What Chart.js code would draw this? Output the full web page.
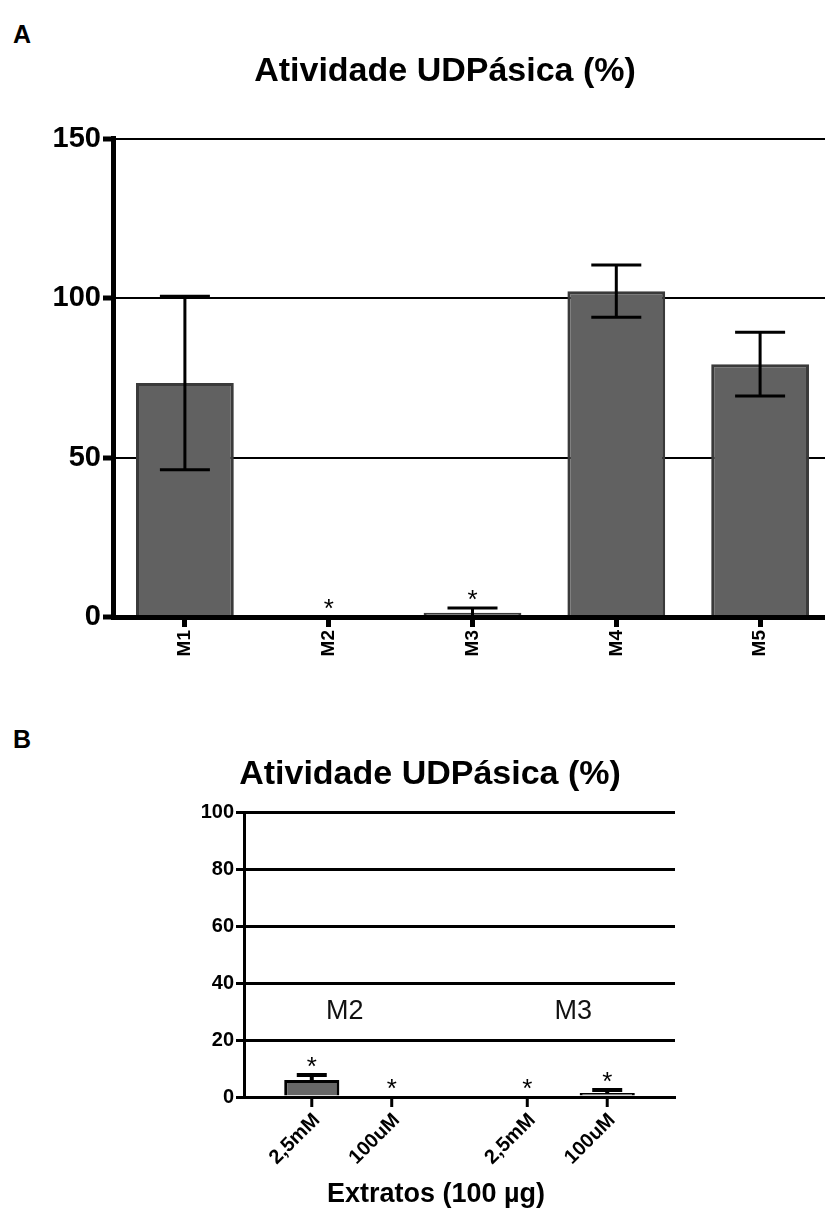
<!DOCTYPE html>
<html>
<head>
<meta charset="utf-8">
<script src="https://cdn.jsdelivr.net/npm/chart.js@4.4.0/dist/chart.umd.min.js"></script>
<style>
  body { margin: 0; background: #fff; width: 825px; height: 1214px; overflow: hidden; position: relative;
         font-family: "Liberation Sans", Arial, sans-serif; }
  .tag { position: absolute; left: 13px; font-weight: bold; font-size: 25px; color: #000; }
  #wrapA { position: absolute; left: 0; top: 0; width: 890px; height: 690px; }
  #wrapB { position: absolute; left: 0; top: 690px; width: 860px; height: 524px; }
</style>
</head>
<body>
<div class="tag" style="top:20px">A</div>
<div class="tag" style="top:725px">B</div>
<div id="wrapA"><canvas id="chartA"></canvas></div>
<div id="wrapB"><canvas id="chartB"></canvas></div>

<script>
// panel A data
const labelsA = ['M1', 'M2', 'M3', 'M4', 'M5'];
const valuesA = [73.4, 0, 1.3, 102.2, 79.3];
const errorsA = [27.2, 0, 1.5, 8.2, 10.0];
const starsA = [false, true, true, false, false];
const ticksA = [0, 50, 100, 150];

// panel B data (grouped by extract, one series per concentration)
const groupsB = ['M2', 'M3'];
const concLabels = ['2,5mM', '100uM'];
const values25mM = [6.0, 0];
const values100uM = [0, 1.4];
const errors25mM = [1.7, 0];
const errors100uM = [0, 1.1];
const stars25mM = [true, true];
const stars100uM = [true, true];
const ticksB = [0, 20, 40, 60, 80, 100];

const titleText = 'Atividade UDPásica (%)';
const xTitleB = 'Extratos (100 µg)';

Chart.defaults.font.family = '"Liberation Sans", Arial, sans-serif';
Chart.defaults.color = '#000';
Chart.defaults.animation = false;

// empty right-hand axis, only used to reserve room so the title stays centred on the canvas
function spacerAxis(width) {
    return {
        position: 'right',
        grid: { display: false },
        border: { display: false },
        ticks: { display: false },
        afterFit: s => { s.width = width; }
    };
}

// error bars + significance stars
const errorBars = {
    id: 'errorBars',
    afterDatasetsDraw(chart, args, opts) {
        const ctx = chart.ctx;
        const ys = chart.scales.y;
        ctx.save();
        ctx.strokeStyle = '#000';
        ctx.fillStyle = '#000';
        ctx.lineWidth = opts.lineWidth;
        ctx.font = opts.starFont;
        chart.data.datasets.forEach((ds, di) => {
            const meta = chart.getDatasetMeta(di);
            const errs = opts.errors[di] || [];
            const stars = opts.stars[di] || [];
            meta.data.forEach((bar, i) => {
                const v = ds.data[i];
                const e = errs[i] || 0;
                let top = ys.getPixelForValue(v);
                if (e > 0) {
                    const yt = ys.getPixelForValue(v + e);
                    const yb = opts.upperOnly ? top : ys.getPixelForValue(Math.max(v - e, 0));
                    ctx.beginPath();
                    ctx.moveTo(bar.x, yt);
                    ctx.lineTo(bar.x, yb);
                    ctx.moveTo(bar.x - opts.cap, yt);
                    ctx.lineTo(bar.x + opts.cap, yt);
                    if (!opts.upperOnly && v - e > 0) {
                        ctx.moveTo(bar.x - opts.cap, yb);
                        ctx.lineTo(bar.x + opts.cap, yb);
                    }
                    ctx.stroke();
                    top = Math.min(top, yt);
                }
                if (stars[i]) {
                    const m = ctx.measureText('*');
                    const cy = top - opts.starGap;
                    ctx.textAlign = 'center';
                    ctx.textBaseline = 'alphabetic';
                    ctx.fillText('*', bar.x, cy + (m.actualBoundingBoxAscent - m.actualBoundingBoxDescent) / 2);
                }
            });
        });
        ctx.restore();
    }
};

// panel B: ticks/labels under each bar, group names, x title
const panelBExtras = {
    id: 'panelBExtras',
    afterDraw(chart) {
        const ctx = chart.ctx;
        const ys = chart.scales.y;
        const xs = chart.scales.x;
        const y0 = ys.getPixelForValue(0);
        ctx.save();
        ctx.strokeStyle = '#000';
        ctx.fillStyle = '#000';
        ctx.lineWidth = 3;
        chart.data.datasets.forEach((ds, di) => {
            chart.getDatasetMeta(di).data.forEach(bar => {
                ctx.beginPath();
                ctx.moveTo(bar.x, y0);
                ctx.lineTo(bar.x, y0 + 10);
                ctx.stroke();
                ctx.save();
                ctx.translate(bar.x + 5, y0 + 20);
                ctx.rotate(-Math.PI / 4);
                ctx.font = 'bold 20px "Liberation Sans", Arial, sans-serif';
                ctx.textAlign = 'right';
                ctx.textBaseline = 'middle';
                ctx.fillText(ds.label, 0, 0);
                ctx.restore();
            });
        });
        // group names inside the plot
        ctx.font = '27px "Liberation Sans", Arial, sans-serif';
        ctx.textAlign = 'center';
        ctx.textBaseline = 'middle';
        ctx.fillStyle = '#111';
        chart.data.labels.forEach((g, i) => {
            ctx.fillText(g, xs.getPixelForValue(i) - (i === 0 ? 7 : -6), ys.getPixelForValue(30));
        });
        // x axis title
        ctx.fillStyle = '#000';
        ctx.font = 'bold 27px "Liberation Sans", Arial, sans-serif';
        ctx.fillText(xTitleB, 436, chart.chartArea.bottom + 98);
        ctx.restore();
    }
};

new Chart(document.getElementById('chartA'), {
    type: 'bar',
    data: {
        labels: labelsA,
        datasets: [{
            data: valuesA,
            backgroundColor: '#616161',
            borderColor: '#3a3a3a',
            borderWidth: 3,
            categoryPercentage: 0.68,
            barPercentage: 1.0
        }]
    },
    options: {
        responsive: true,
        maintainAspectRatio: false,
        layout: { padding: { left: 0, right: 0, top: 0, bottom: 3 } },
        plugins: {
            legend: { display: false },
            tooltip: { enabled: false },
            title: {
                display: true,
                text: titleText,
                color: '#000',
                font: { size: 34, weight: 'bold' },
                padding: { top: 51, bottom: 47 }
            },
            errorBars: { errors: [errorsA], stars: [starsA], cap: 25, lineWidth: 3, starGap: 13,
                         starFont: '26px "Liberation Sans", Arial, sans-serif' }
        },
        scales: {
            x: {
                grid: { drawOnChartArea: false, offset: false, color: '#000', tickLength: 10, tickWidth: 5 },
                border: { color: '#000', width: 5, z: 1 },
                ticks: { font: { size: 19, weight: 'bold' }, minRotation: 90, maxRotation: 90,
                         autoSkip: false, padding: 3 },
                afterFit: s => { s.height = 70; }
            },
            y: {
                min: 0,
                max: 150,
                afterBuildTicks: s => { s.ticks = ticksA.map(v => ({ value: v })); },
                grid: { color: '#000', lineWidth: 2, tickLength: 10, tickWidth: 5 },
                border: { color: '#000', width: 5, z: 1 },
                ticks: { font: { size: 29, weight: 'bold' }, padding: 2 },
                afterFit: s => { s.width = 113; }
            },
            spacer: spacerAxis(58)
        }
    },
    plugins: [errorBars]
});

new Chart(document.getElementById('chartB'), {
    type: 'bar',
    data: {
        labels: groupsB,
        datasets: [
            { label: concLabels[0], data: values25mM },
            { label: concLabels[1], data: values100uM }
        ].map(d => Object.assign(d, {
            backgroundColor: '#666666',
            borderColor: '#000',
            borderWidth: 3,
            categoryPercentage: 0.742,
            barPercentage: 0.69
        }))
    },
    options: {
        responsive: true,
        maintainAspectRatio: false,
        layout: { padding: { left: 0, right: 0, top: 0, bottom: 2 } },
        plugins: {
            legend: { display: false },
            tooltip: { enabled: false },
            title: {
                display: true,
                text: titleText,
                color: '#000',
                font: { size: 34, weight: 'bold' },
                padding: { top: 64, bottom: 18 }
            },
            errorBars: { errors: [errors25mM, errors100uM], stars: [stars25mM, stars100uM], cap: 15,
                         lineWidth: 4, starGap: 13, upperOnly: true,
                         starFont: '26px "Liberation Sans", Arial, sans-serif' }
        },
        scales: {
            x: {
                grid: { display: false },
                border: { color: '#000', width: 3, z: 1 },
                ticks: { display: false },
                afterFit: s => { s.height = 115; }
            },
            y: {
                min: 0,
                max: 100,
                afterBuildTicks: s => { s.ticks = ticksB.map(v => ({ value: v })); },
                grid: { color: '#000', lineWidth: 3, tickLength: 8, tickWidth: 3 },
                border: { color: '#000', width: 3, z: 1 },
                ticks: { font: { size: 20, weight: 'bold' }, padding: 2 },
                afterFit: s => { s.width = 244; }
            },
            spacer: spacerAxis(185)
        }
    },
    plugins: [errorBars, panelBExtras]
});
</script>
</body>
</html>
